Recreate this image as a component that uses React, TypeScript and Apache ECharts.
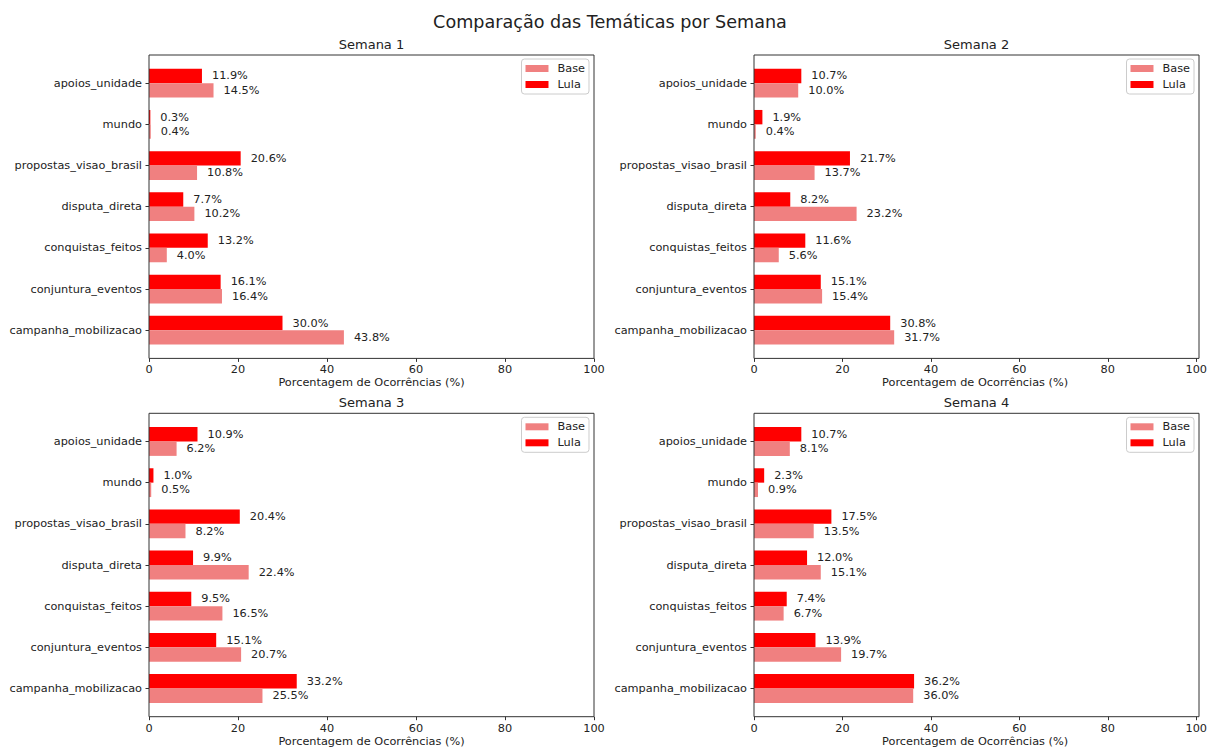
import React, { useEffect, useRef } from "react";
import * as echarts from "echarts";

const categories = [
  "campanha_mobilizacao",
  "conjuntura_eventos",
  "conquistas_feitos",
  "disputa_direta",
  "propostas_visao_brasil",
  "mundo",
  "apoios_unidade",
];
const weekTitles = ["Semana 1", "Semana 2", "Semana 3", "Semana 4"];
const seriesNames = ["Base", "Lula"];
const base1 = [43.8, 16.4, 4.0, 10.2, 10.8, 0.4, 14.5];
const lula1 = [30.0, 16.1, 13.2, 7.7, 20.6, 0.3, 11.9];
const base2 = [31.7, 15.4, 5.6, 23.2, 13.7, 0.4, 10.0];
const lula2 = [30.8, 15.1, 11.6, 8.2, 21.7, 1.9, 10.7];
const base3 = [25.5, 20.7, 16.5, 22.4, 8.2, 0.5, 6.2];
const lula3 = [33.2, 15.1, 9.5, 9.9, 20.4, 1.0, 10.9];
const base4 = [36.0, 19.7, 6.7, 15.1, 13.5, 0.9, 8.1];
const lula4 = [36.2, 13.9, 7.4, 12.0, 17.5, 2.3, 10.7];
const baseData = [base1, base2, base3, base4];
const lulaData = [lula1, lula2, lula3, lula4];
const xMin = 0;
const xMax = 100;
const xInterval = 20;
const mainTitle = "Comparação das Temáticas por Semana";
const xName = "Porcentagem de Ocorrências (%)";

const FONT = "DejaVu Sans";
const TEXT = "#222";
const AXIS = "#333";
const FS = 11.3;
const panelLefts = [149, 754, 149, 754];
const panelTops = [55, 55, 413.3, 413.3];
const PW = 445;
const PH = 303.4;
const PAD = 7.6;

export default function App() {
  const ref = useRef<HTMLDivElement>(null);
  useEffect(() => {
    document.body.style.margin = "0";
    const chart = echarts.init(ref.current!, null, { renderer: "svg" });
    const grids: any[] = [];
    const xAxes: any[] = [];
    const yAxes: any[] = [];
    const series: any[] = [];
    const legends: any[] = [];
    const graphics: any[] = [
      {
        type: "text",
        x: 610,
        y: 22,
        style: {
          text: mainTitle,
          fontSize: 17.6,
          fontFamily: FONT,
          fill: TEXT,
          textAlign: "center",
          textVerticalAlign: "middle",
        },
      },
    ];
    for (let i = 0; i < 4; i++) {
      const L = panelLefts[i];
      const T = panelTops[i];
      grids.push({ left: L, top: T + PAD, width: PW, height: PH - 2 * PAD, containLabel: false });
      xAxes.push({
        type: "value",
        gridIndex: i,
        min: xMin,
        max: xMax,
        interval: xInterval,
        offset: PAD,
        name: xName,
        nameLocation: "middle",
        nameGap: 19,
        nameTextStyle: { fontSize: FS, color: TEXT, fontFamily: FONT, verticalAlign: "top" },
        axisLine: { show: false },
        axisTick: { show: true, length: 3.5, inside: false, lineStyle: { color: AXIS } },
        axisLabel: { fontSize: FS, color: TEXT, fontFamily: FONT, margin: 6 },
        splitLine: { show: false },
      });
      yAxes.push({
        type: "category",
        gridIndex: i,
        data: categories,
        axisLine: { show: false },
        axisTick: { show: true, alignWithLabel: true, length: 3.5, lineStyle: { color: AXIS } },
        axisLabel: { fontSize: FS, color: TEXT, fontFamily: FONT, margin: 7 },
        splitLine: { show: false },
      });
      const lbl = {
        show: true,
        position: "right",
        distance: 10,
        fontSize: FS,
        color: TEXT,
        fontFamily: FONT,
        formatter: (p: any) => Number(p.value).toFixed(1) + "%",
      };
      series.push({
        type: "bar",
        name: seriesNames[1],
        xAxisIndex: i,
        yAxisIndex: i,
        data: lulaData[i],
        barWidth: 14.4,
        barGap: "0%",
        itemStyle: { color: "#ff0000" },
        label: lbl,
      });
      series.push({
        type: "bar",
        name: seriesNames[0],
        xAxisIndex: i,
        yAxisIndex: i,
        data: baseData[i],
        barWidth: 14.4,
        barGap: "0%",
        itemStyle: { color: "#f08080" },
        label: lbl,
      });
      legends.push({
        data: seriesNames,
        orient: "vertical",
        right: 1210 - (L + PW - 5),
        top: T + 4,
        icon: "rect",
        itemWidth: 23,
        itemHeight: 7,
        itemGap: 5,
        padding: [4, 4, 4, 4],
        borderColor: "#ccc",
        borderWidth: 1,
        borderRadius: 3,
        backgroundColor: "rgba(255,255,255,0.8)",
        textStyle: { fontSize: FS, color: TEXT, fontFamily: FONT, padding: [0, 0, 0, 4] },
      });
      graphics.push({
        type: "rect",
        shape: { x: L, y: T, width: PW, height: PH },
        style: { fill: "none", stroke: AXIS, lineWidth: 1 },
        z: 10,
      });
      graphics.push({
        type: "text",
        x: L + PW / 2,
        y: T - 11,
        style: {
          text: weekTitles[i],
          fontSize: 13,
          fontFamily: FONT,
          fill: TEXT,
          textAlign: "center",
          textVerticalAlign: "middle",
        },
      });
    }
    chart.setOption({
      animation: false,
      backgroundColor: "#fff",
      textStyle: { fontFamily: FONT },
      grid: grids,
      xAxis: xAxes,
      yAxis: yAxes,
      series,
      legend: legends,
      graphic: graphics,
    });
    return () => chart.dispose();
  }, []);
  return <div ref={ref} style={{ width: 1210, height: 748 }} />;
}
